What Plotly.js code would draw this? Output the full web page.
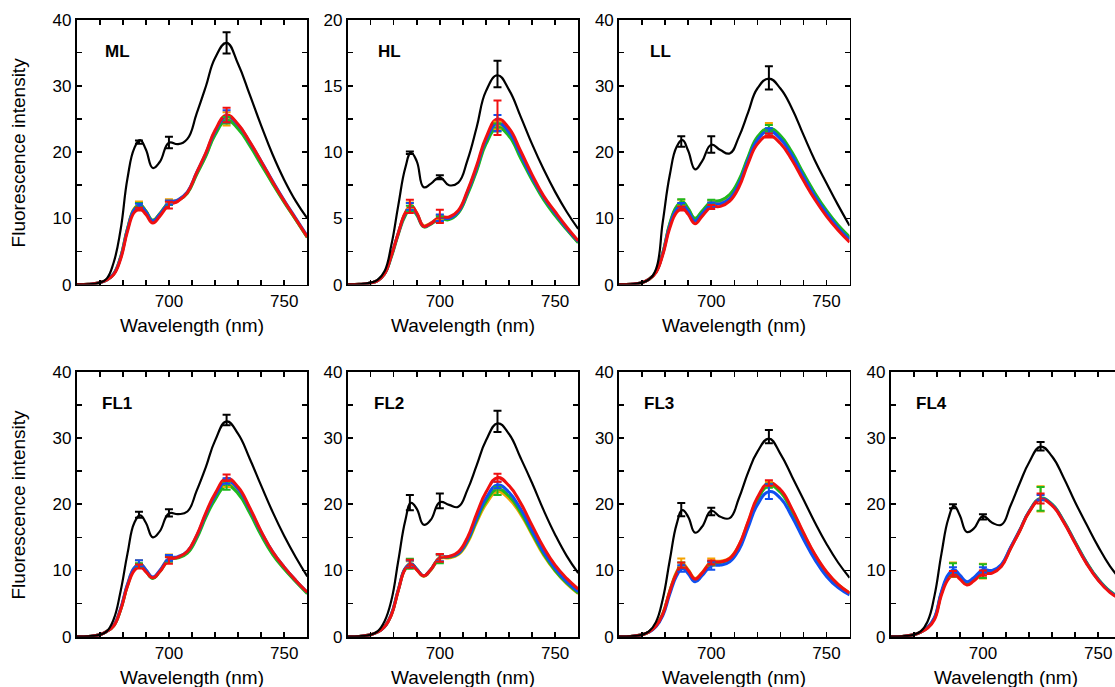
<!DOCTYPE html>
<html>
<head>
<meta charset="utf-8">
<script src="https://cdn.plot.ly/plotly-3.0.1.min.js"></script>
<style>
html,body{margin:0;padding:0;overflow:hidden;background:#fff;}
#chart{width:1130px;height:687px;}
</style>
</head>
<body>
<div id="chart"></div>
<script>
// ---------------- DATA ----------------
const WL = [660,665,670,673,676,679,682,685,687.5,690,693,696,700,704,708,712,716,720,725,730,735,740,745,750,755,760];
const ERR_X = [687,700,725];
const PANELS = ['ML','HL','LL','FL1','FL2','FL3','FL4'];
const YMAX = [40,20,40,40,40,40,40];
const X_TICKS = [660,670,680,690,700,710,720,730,740,750,760];
const X_LABELS = ['','','','','700','','','','','750',''];

// ML
const ML_black  = [0,0.05,0.3,0.9,3.3,8.2,16.0,20.6,21.8,20.4,17.6,18.5,21.4,21.2,22.0,25.8,29.9,34.2,36.5,33.3,28.7,24.0,19.6,15.8,12.6,10.0];
const ML_orange = [0,0.05,0.3,0.7,1.6,4.1,8.4,11.5,12.1,11.1,9.7,10.7,12.4,12.8,13.9,16.7,19.5,22.8,25.0,23.7,21.2,18.3,15.3,12.5,9.8,7.1];
const ML_green  = [0,0.05,0.3,0.7,1.6,4.1,8.4,11.4,12.0,11.1,9.7,10.7,12.3,12.7,13.8,16.6,19.4,22.6,24.8,23.5,21.0,18.1,15.2,12.4,9.8,7.1];
const ML_blue   = [0,0.05,0.3,0.7,1.6,4.0,8.3,11.3,11.9,11.0,9.6,10.6,12.3,12.8,14.0,16.9,19.8,23.1,25.4,24.1,21.5,18.6,15.6,12.7,10.0,7.3];
const ML_red    = [0,0.05,0.3,0.7,1.5,3.8,8.0,10.9,11.4,10.6,9.3,10.3,12.0,12.6,13.9,16.9,19.9,23.3,25.6,24.2,21.6,18.6,15.5,12.6,9.9,7.2];
// HL
const HL_black  = [0,0.02,0.15,0.35,1.0,3.0,6.0,8.8,9.95,9.3,7.35,7.6,8.1,7.5,7.7,9.4,11.9,14.6,15.8,14.7,12.7,10.6,8.7,7.0,5.5,4.2];
const HL_orange = [0,0.02,0.12,0.3,0.8,2.2,3.9,5.4,5.95,5.4,4.45,4.65,5.05,5.0,5.45,6.9,8.7,10.75,12.0,11.35,9.7,8.0,6.5,5.3,4.2,3.2];
const HL_green  = [0,0.02,0.12,0.3,0.8,2.1,3.8,5.2,5.75,5.25,4.35,4.55,4.95,4.9,5.4,6.8,8.6,10.6,11.85,11.2,9.55,7.9,6.4,5.2,4.15,3.15];
const HL_blue   = [0,0.02,0.12,0.3,0.8,2.2,3.9,5.35,5.9,5.35,4.4,4.6,5.05,5.0,5.5,7.0,8.85,10.9,12.2,11.5,9.85,8.1,6.6,5.4,4.25,3.25];
const HL_red    = [0,0.02,0.12,0.3,0.8,2.2,3.9,5.4,5.95,5.4,4.4,4.6,5.1,5.1,5.6,7.1,9.0,11.1,12.5,11.8,10.1,8.3,6.7,5.5,4.35,3.3];
// LL
const LL_black  = [0,0.05,0.3,0.8,2.3,9.5,16.5,20.8,21.8,20.2,17.4,18.6,21.1,20.3,19.8,22.3,26.0,29.6,31.1,29.6,26.6,22.6,18.7,15.3,12.0,8.9];
const LL_orange = [0,0.05,0.3,0.8,1.9,4.8,9.1,11.7,12.4,11.4,9.9,11.0,12.4,12.6,13.5,15.6,19.1,22.1,23.5,22.3,19.8,16.6,13.6,11.0,8.8,7.0];
const LL_green  = [0,0.05,0.3,0.8,1.9,4.8,9.2,11.8,12.5,11.5,10.0,11.1,12.5,12.7,13.6,15.8,19.3,22.3,23.6,22.5,20.0,16.8,13.8,11.2,9.0,7.2];
const LL_blue   = [0,0.05,0.3,0.8,1.9,4.7,8.9,11.4,12.0,11.1,9.6,10.7,12.1,12.2,13.0,15.2,18.8,21.8,23.2,22.0,19.5,16.3,13.3,10.8,8.6,6.8];
const LL_red    = [0,0.05,0.3,0.8,1.8,4.5,8.5,10.9,11.5,10.6,9.2,10.3,11.7,11.8,12.6,14.7,18.3,21.2,22.5,21.3,18.8,15.7,12.8,10.3,8.2,6.4];
// FL1
const FL1_black  = [0,0.05,0.3,0.8,2.6,6.8,12.5,17.2,18.3,17.2,15.0,15.9,18.6,18.5,18.9,22.0,25.6,29.6,32.5,30.6,26.9,22.8,18.8,15.2,12.0,9.1];
const FL1_orange = [0,0.05,0.3,0.8,1.7,4.1,7.8,10.4,11.0,10.1,8.9,9.9,11.8,12.0,12.7,15.0,18.2,20.9,23.0,21.8,18.9,15.5,12.5,10.3,8.4,6.6];
const FL1_green  = [0,0.05,0.3,0.8,1.6,4.0,7.7,10.2,10.8,9.9,8.8,9.8,11.6,11.9,12.6,14.8,18.0,20.7,22.8,21.6,18.7,15.3,12.4,10.2,8.3,6.5];
const FL1_blue   = [0,0.05,0.3,0.8,1.7,4.2,7.9,10.4,11.0,10.1,9.0,10.0,11.8,12.1,12.9,15.2,18.5,21.3,23.5,22.3,19.3,15.8,12.8,10.5,8.5,6.7];
const FL1_red    = [0,0.05,0.3,0.8,1.6,4.0,7.6,10.0,10.6,9.8,8.9,9.8,11.6,12.0,12.9,15.3,18.7,21.6,23.9,22.6,19.5,15.9,12.8,10.5,8.5,6.7];
// FL2
const FL2_black  = [0,0.05,0.3,0.8,2.3,5.5,11.5,17.5,20.2,19.3,16.9,17.6,20.3,19.9,19.6,22.2,25.9,29.6,32.2,30.6,27.0,23.2,19.1,15.4,12.2,9.6];
const FL2_orange = [0,0.05,0.3,0.7,1.5,3.3,7.0,10.2,10.9,10.1,9.1,10.0,11.8,11.9,12.4,14.2,17.3,20.0,21.9,20.8,18.5,15.4,12.3,9.9,8.0,6.5];
const FL2_green  = [0,0.05,0.3,0.7,1.5,3.4,7.1,10.3,11.0,10.2,9.2,10.1,11.9,12.0,12.5,14.4,17.6,20.4,22.3,21.2,18.8,15.6,12.5,10.0,8.1,6.6];
const FL2_blue   = [0,0.05,0.3,0.7,1.5,3.4,7.1,10.3,11.0,10.2,9.2,10.1,11.9,12.1,12.6,14.6,17.9,20.9,22.9,21.8,19.3,16.0,12.8,10.3,8.3,6.8];
const FL2_red    = [0,0.05,0.3,0.7,1.5,3.3,7.0,10.2,10.9,10.1,9.2,10.1,11.9,12.1,12.8,15.0,18.6,21.8,24.0,22.8,20.2,16.8,13.5,10.8,8.8,7.2];
// FL3
const FL3_black  = [0,0.05,0.3,0.8,2.2,5.7,11.5,17.0,19.1,18.1,15.7,16.6,19.0,18.1,17.9,20.9,24.8,27.9,29.9,27.6,24.2,20.7,17.2,14.0,11.2,8.9];
const FL3_orange = [0,0.05,0.3,0.7,1.6,3.5,6.9,9.8,11.0,10.1,8.8,9.7,11.3,11.4,11.9,13.8,17.3,20.8,23.0,22.0,19.1,15.6,12.3,9.7,7.9,6.6];
const FL3_green  = [0,0.05,0.3,0.7,1.6,3.4,6.8,9.6,10.8,9.9,8.6,9.5,11.1,11.2,11.7,13.6,17.1,20.6,22.8,21.8,18.9,15.4,12.2,9.6,7.8,6.5];
const FL3_blue   = [0,0.05,0.3,0.7,1.5,3.2,6.4,9.2,10.3,9.5,8.3,9.2,10.7,10.8,11.3,13.1,16.5,19.9,21.9,20.9,18.1,14.7,11.6,9.1,7.4,6.3];
const FL3_red    = [0,0.05,0.3,0.7,1.6,3.4,6.8,9.6,10.8,10.0,8.7,9.6,11.2,11.3,11.8,13.8,17.4,21.0,23.2,22.2,19.3,15.7,12.4,9.8,7.9,6.6];
// FL4
const FL4_black  = [0,0.05,0.3,0.8,2.3,6.2,12.5,17.8,19.7,18.3,15.8,16.3,18.2,17.2,16.9,19.8,23.2,26.3,28.7,27.2,24.0,20.3,16.9,13.6,10.7,8.5];
const FL4_orange = [0,0.05,0.3,0.7,1.4,2.8,6.6,9.1,9.8,9.0,8.1,8.7,9.8,9.8,10.8,13.4,16.0,18.8,20.8,19.9,17.4,14.2,11.1,8.6,6.8,5.7];
const FL4_green  = [0,0.05,0.3,0.7,1.4,2.8,6.6,9.1,9.8,9.0,8.1,8.7,9.8,9.8,10.8,13.4,16.1,18.9,20.9,20.0,17.5,14.3,11.2,8.7,6.9,5.8];
const FL4_blue   = [0,0.05,0.3,0.7,1.4,2.9,6.8,9.4,10.1,9.3,8.3,8.9,10.1,10.0,10.9,13.5,16.1,18.9,20.8,19.9,17.4,14.2,11.1,8.6,6.8,5.7];
const FL4_red    = [0,0.05,0.3,0.7,1.3,2.6,6.3,8.7,9.4,8.7,7.8,8.4,9.5,9.6,10.6,13.3,16.0,18.8,20.7,19.8,17.3,14.1,11.0,8.5,6.7,5.6];

// error bars at 687, 700, 725 nm : mean and SD
const ML_black_m=[21.5,21.45,36.5],  ML_black_sd=[0.25,0.85,1.6];
const ML_orange_m=[12.1,12.5,25.0],  ML_orange_sd=[0.45,0.4,1.0];
const ML_green_m=[12.0,12.3,24.8],   ML_green_sd=[0.3,0.3,0.5];
const ML_blue_m=[11.9,12.4,25.4],    ML_blue_sd=[0.3,0.3,0.9];
const ML_red_m=[11.4,12.0,25.6],     ML_red_sd=[0.2,0.5,1.1];

const HL_black_m=[9.95,8.1,15.9],    HL_black_sd=[0.1,0.15,1.0];
const HL_orange_m=[5.95,5.05,12.0],  HL_orange_sd=[0.25,0.2,0.3];
const HL_green_m=[5.75,4.95,11.85],  HL_green_sd=[0.2,0.2,0.3];
const HL_blue_m=[5.9,5.05,12.2],     HL_blue_sd=[0.25,0.25,0.6];
const HL_red_m=[5.9,5.15,12.6],      HL_red_sd=[0.5,0.5,1.3];

const LL_black_m=[21.6,21.15,31.2],  LL_black_sd=[0.8,1.25,1.75];
const LL_orange_m=[12.4,12.4,23.6],  LL_orange_sd=[0.4,0.3,0.8];
const LL_green_m=[12.5,12.5,23.6],   LL_green_sd=[0.4,0.3,0.5];
const LL_blue_m=[12.0,12.1,23.2],    LL_blue_sd=[0.3,0.3,0.4];
const LL_red_m=[11.5,11.7,22.5],     LL_red_sd=[0.3,0.3,0.3];

const FL1_black_m=[18.4,18.7,32.7],  FL1_black_sd=[0.45,0.55,0.8];
const FL1_orange_m=[11.1,11.9,23.0], FL1_orange_sd=[0.45,0.5,0.4];
const FL1_green_m=[10.8,11.7,22.8],  FL1_green_sd=[0.3,0.4,0.6];
const FL1_blue_m=[11.1,11.9,23.5],   FL1_blue_sd=[0.45,0.45,0.4];
const FL1_red_m=[10.6,11.5,24.0],    FL1_red_sd=[0.3,0.5,0.5];

const FL2_black_m=[20.25,20.5,32.5], FL2_black_sd=[1.15,1.1,1.6];
const FL2_orange_m=[10.9,11.8,21.9], FL2_orange_sd=[0.5,0.5,0.5];
const FL2_green_m=[11.0,11.8,22.0],  FL2_green_sd=[0.75,0.7,0.6];
const FL2_blue_m=[11.0,11.9,22.9],   FL2_blue_sd=[0.5,0.5,0.5];
const FL2_red_m=[11.0,11.9,24.0],    FL2_red_sd=[0.6,0.6,0.6];

const FL3_black_m=[19.2,18.9,30.2],  FL3_black_sd=[1.0,0.55,1.0];
const FL3_orange_m=[11.2,11.3,23.0], FL3_orange_sd=[0.6,0.5,0.4];
const FL3_green_m=[10.8,11.1,22.8],  FL3_green_sd=[0.4,0.3,0.3];
const FL3_blue_m=[10.3,10.7,21.9],   FL3_blue_sd=[0.5,0.6,1.1];
const FL3_red_m=[10.8,11.2,23.2],    FL3_red_sd=[0.4,0.3,0.4];

const FL4_black_m=[19.7,18.1,28.75], FL4_black_sd=[0.3,0.4,0.65];
const FL4_orange_m=[10.1,9.9,20.8],  FL4_orange_sd=[1.1,1.1,1.9];
const FL4_green_m=[10.1,9.9,20.8],   FL4_green_sd=[1.0,1.05,1.8];
const FL4_blue_m=[10.1,10.1,21.0],   FL4_blue_sd=[0.4,0.4,0.4];
const FL4_red_m=[9.5,9.6,20.85],     FL4_red_sd=[0.4,0.4,0.75];

// ---------------- TABLE built from the arrays ----------------
const CURVES = {
  ML:{black:ML_black,orange:ML_orange,green:ML_green,blue:ML_blue,red:ML_red},
  HL:{black:HL_black,orange:HL_orange,green:HL_green,blue:HL_blue,red:HL_red},
  LL:{black:LL_black,orange:LL_orange,green:LL_green,blue:LL_blue,red:LL_red},
  FL1:{black:FL1_black,orange:FL1_orange,green:FL1_green,blue:FL1_blue,red:FL1_red},
  FL2:{black:FL2_black,orange:FL2_orange,green:FL2_green,blue:FL2_blue,red:FL2_red},
  FL3:{black:FL3_black,orange:FL3_orange,green:FL3_green,blue:FL3_blue,red:FL3_red},
  FL4:{black:FL4_black,orange:FL4_orange,green:FL4_green,blue:FL4_blue,red:FL4_red}
};
const ERRS = {
  ML:{black:[ML_black_m,ML_black_sd],orange:[ML_orange_m,ML_orange_sd],green:[ML_green_m,ML_green_sd],blue:[ML_blue_m,ML_blue_sd],red:[ML_red_m,ML_red_sd]},
  HL:{black:[HL_black_m,HL_black_sd],orange:[HL_orange_m,HL_orange_sd],green:[HL_green_m,HL_green_sd],blue:[HL_blue_m,HL_blue_sd],red:[HL_red_m,HL_red_sd]},
  LL:{black:[LL_black_m,LL_black_sd],orange:[LL_orange_m,LL_orange_sd],green:[LL_green_m,LL_green_sd],blue:[LL_blue_m,LL_blue_sd],red:[LL_red_m,LL_red_sd]},
  FL1:{black:[FL1_black_m,FL1_black_sd],orange:[FL1_orange_m,FL1_orange_sd],green:[FL1_green_m,FL1_green_sd],blue:[FL1_blue_m,FL1_blue_sd],red:[FL1_red_m,FL1_red_sd]},
  FL2:{black:[FL2_black_m,FL2_black_sd],orange:[FL2_orange_m,FL2_orange_sd],green:[FL2_green_m,FL2_green_sd],blue:[FL2_blue_m,FL2_blue_sd],red:[FL2_red_m,FL2_red_sd]},
  FL3:{black:[FL3_black_m,FL3_black_sd],orange:[FL3_orange_m,FL3_orange_sd],green:[FL3_green_m,FL3_green_sd],blue:[FL3_blue_m,FL3_blue_sd],red:[FL3_red_m,FL3_red_sd]},
  FL4:{black:[FL4_black_m,FL4_black_sd],orange:[FL4_orange_m,FL4_orange_sd],green:[FL4_green_m,FL4_green_sd],blue:[FL4_blue_m,FL4_blue_sd],red:[FL4_red_m,FL4_red_sd]}
};

// ---------------- STYLE / LAYOUT ----------------
const COLORS = {black:'#000000',orange:'#f5a300',green:'#1fb81f',blue:'#1050f0',red:'#f01010'};
const LW = {black:2.2,orange:3,green:3,blue:3,red:3};
const DRAW_ORDER = ['orange','green','blue','red','black'];
const FONT = '"Liberation Sans", Arial, Helvetica, sans-serif';
const W = 1130, H = 687;
const COL_L = [76.7, 347.6, 619.0, 890.7];
const PW = 230.6;
const ROW_T = [19.6, 371.7], PH = 265.0;
const POS = {ML:[0,0],HL:[0,1],LL:[0,2],FL1:[1,0],FL2:[1,1],FL3:[1,2],FL4:[1,3]};
const LABEL_DX = {ML:26,HL:28,LL:29,FL1:23,FL2:24,FL3:23,FL4:23};
const px = p => p / W;
const py = p => 1 - p / H;

const traces = [];
const layout = {
  width: W, height: H,
  margin: {l:0, r:0, t:0, b:0},
  paper_bgcolor: '#fff', plot_bgcolor: '#fff',
  showlegend: false,
  font: {family: FONT, color: '#000', size: 17},
  annotations: []
};

PANELS.forEach((name, i) => {
  const n = i + 1;
  const xa = 'x' + (n === 1 ? '' : n), ya = 'y' + (n === 1 ? '' : n);
  const [r, c] = POS[name];
  const L = COL_L[c], T = ROW_T[r], B = T + PH;
  const ymax = YMAX[i];
  const yStep = ymax / 8;
  const yTicks = [], yLabels = [];
  for (let k = 0; k <= 8; k++) { yTicks.push(k * yStep); yLabels.push(k % 2 === 0 ? String(k * yStep) : ''); }
  const axCommon = {
    ticks: 'inside', ticklen: 5, tickwidth: 1.5, tickcolor: '#000',
    showline: true, linecolor: '#000', linewidth: 1.8, mirror: 'ticks',
    showgrid: false, zeroline: false, fixedrange: true,
    tickfont: {family: FONT, size: 17, color: '#000'}
  };
  layout['xaxis' + (n === 1 ? '' : n)] = Object.assign({}, axCommon, {
    domain: [px(L), px(L + PW)], range: [660, 760], anchor: ya,
    tickmode: 'array', tickvals: X_TICKS, ticktext: X_LABELS
  });
  layout['yaxis' + (n === 1 ? '' : n)] = Object.assign({}, axCommon, {
    domain: [py(B), py(T)], range: [0, ymax], anchor: xa,
    tickmode: 'array', tickvals: yTicks, ticktext: yLabels
  });

  DRAW_ORDER.forEach(s => {
    traces.push({
      type: 'scatter', mode: 'lines', x: WL, y: CURVES[name][s], xaxis: xa, yaxis: ya,
      line: {color: COLORS[s], width: LW[s], shape: 'spline', smoothing: 1.3},
      hoverinfo: 'skip'
    });
  });
  DRAW_ORDER.forEach(s => {
    traces.push({
      type: 'scatter', mode: 'markers', x: ERR_X, y: ERRS[name][s][0], xaxis: xa, yaxis: ya,
      marker: {size: 1, color: COLORS[s], opacity: 0},
      error_y: {type: 'data', array: ERRS[name][s][1], visible: true, color: COLORS[s], thickness: 2, width: 4},
      hoverinfo: 'skip'
    });
  });

  layout.annotations.push({
    text: '<b>' + name + '</b>', xref: 'paper', yref: 'paper',
    x: px(L + LABEL_DX[name]), y: py(T + 32), xanchor: 'left', yanchor: 'middle',
    showarrow: false, font: {family: FONT, size: 17, color: '#000'}
  });
  layout.annotations.push({
    text: 'Wavelength (nm)', xref: 'paper', yref: 'paper',
    x: px(L + PW / 2), y: py(B + 40.6), xanchor: 'center', yanchor: 'middle',
    showarrow: false, font: {family: FONT, size: 19, color: '#000'}
  });
  if (c === 0) {
    layout.annotations.push({
      text: 'Fluorescence intensity', xref: 'paper', yref: 'paper', textangle: -90,
      x: px(18.3), y: py(T + PH / 2), xanchor: 'center', yanchor: 'middle',
      showarrow: false, font: {family: FONT, size: 19, color: '#000'}
    });
  }
});

Plotly.newPlot('chart', traces, layout, {staticPlot: true, displayModeBar: false});
</script>
</body>
</html>
